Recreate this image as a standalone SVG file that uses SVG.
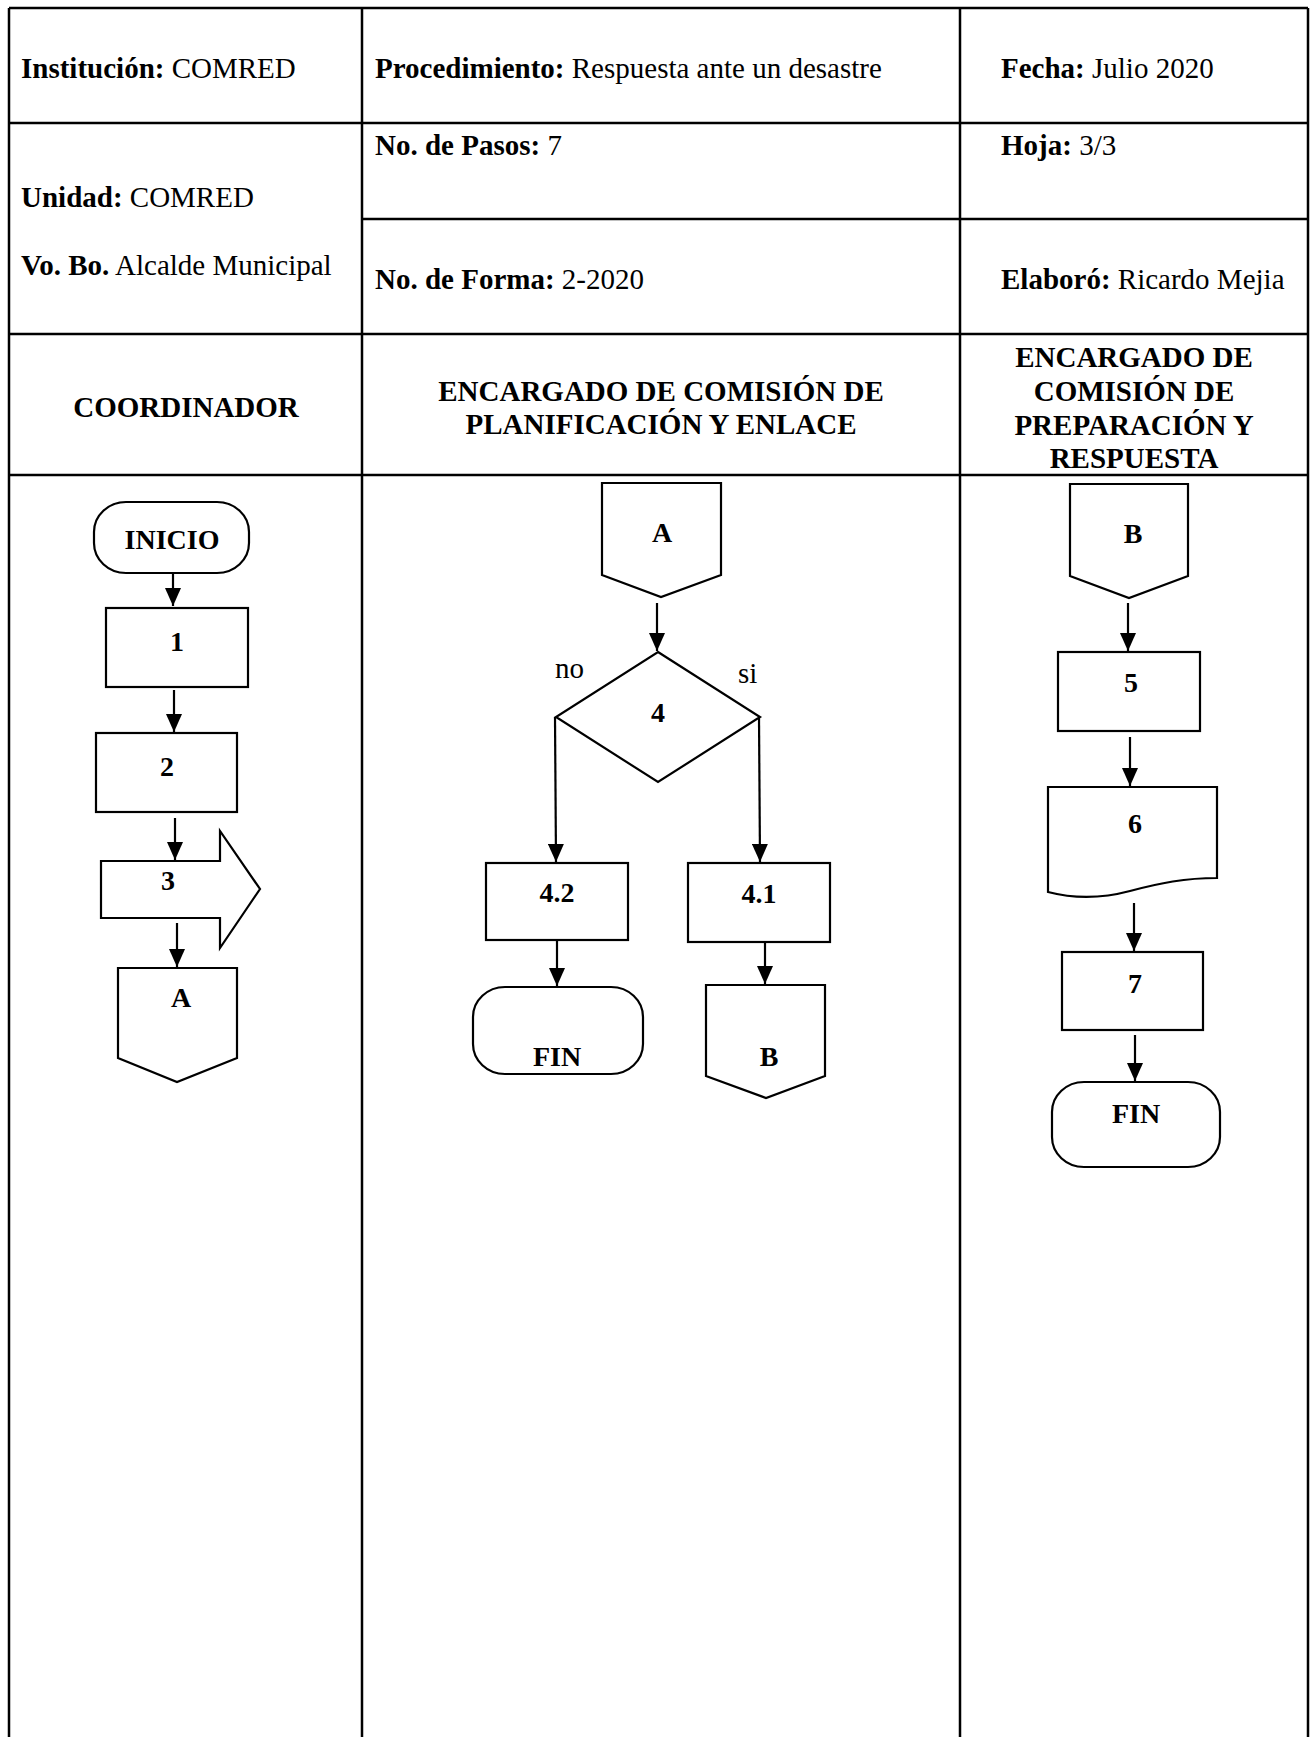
<svg xmlns="http://www.w3.org/2000/svg" width="1311" height="1737" viewBox="0 0 1311 1737">
<style>
.tbl{stroke:#000;stroke-width:2.5;fill:none}
.sh{fill:#fff;stroke:#000;stroke-width:2.2}
.cn{stroke:#000;stroke-width:2.2;fill:none}
text{font-family:"Liberation Serif","Times New Roman",serif;fill:#000}
.h{font-size:29px}
.hb{font-size:29px;font-weight:bold;text-anchor:middle}
.l{font-size:28px;font-weight:bold;text-anchor:middle}
.r{font-size:29px}
</style>
<defs>
<marker id="ah" viewBox="0 0 18 16" refX="18" refY="8" markerWidth="18" markerHeight="16" markerUnits="userSpaceOnUse" orient="auto">
<path d="M0,0 L18,8 L0,16 Z" fill="#000"/>
</marker>
</defs>
<rect width="1311" height="1737" fill="#fff"/>
<g id="table">
<path class="tbl" d="M9,8 H1308 M9,8 V1737 M362,8 V1737 M960,8 V1737 M1308,8 V1737 M9,123 H1308 M362,219 H1308 M9,334 H1308 M9,475 H1308"/>
<text class="h" x="21" y="78"><tspan font-weight="bold">Institución:</tspan> COMRED</text>
<text class="h" x="375" y="78"><tspan font-weight="bold">Procedimiento:</tspan> Respuesta ante un desastre</text>
<text class="h" x="1001" y="78"><tspan font-weight="bold">Fecha:</tspan> Julio 2020</text>
<text class="h" x="375" y="155"><tspan font-weight="bold">No. de Pasos:</tspan> 7</text>
<text class="h" x="1001" y="155"><tspan font-weight="bold">Hoja:</tspan> 3/3</text>
<text class="h" x="21" y="207"><tspan font-weight="bold">Unidad:</tspan> COMRED</text>
<text class="h" x="21" y="275"><tspan font-weight="bold">Vo. Bo.</tspan> Alcalde Municipal</text>
<text class="h" x="375" y="289"><tspan font-weight="bold">No. de Forma:</tspan> 2-2020</text>
<text class="h" x="1001" y="289"><tspan font-weight="bold">Elaboró:</tspan> Ricardo Mejia</text>
<text class="hb" x="186" y="417">COORDINADOR</text>
<text class="hb" x="661" y="401">ENCARGADO DE COMISIÓN DE</text>
<text class="hb" x="661" y="434">PLANIFICACIÓN Y ENLACE</text>
<text class="hb" x="1134" y="367">ENCARGADO DE</text>
<text class="hb" x="1134" y="401">COMISIÓN DE</text>
<text class="hb" x="1134" y="435">PREPARACIÓN Y</text>
<text class="hb" x="1134" y="468">RESPUESTA</text>
</g>
<g id="connectors">
<path class="cn" marker-end="url(#ah)" d="M173,573 V606"/>
<path class="cn" marker-end="url(#ah)" d="M174,690 V732"/>
<path class="cn" marker-end="url(#ah)" d="M175,818 V860"/>
<path class="cn" marker-end="url(#ah)" d="M177,923 V967"/>
<path class="cn" marker-end="url(#ah)" d="M657,603 V651"/>
<path class="cn" marker-end="url(#ah)" d="M555,717 L556,862"/>
<path class="cn" marker-end="url(#ah)" d="M759,717 L760,862"/>
<path class="cn" marker-end="url(#ah)" d="M557,941 V986"/>
<path class="cn" marker-end="url(#ah)" d="M765,943 V984"/>
<path class="cn" marker-end="url(#ah)" d="M1128,603 V651"/>
<path class="cn" marker-end="url(#ah)" d="M1130,737 V786"/>
<path class="cn" marker-end="url(#ah)" d="M1134,903 V951"/>
<path class="cn" marker-end="url(#ah)" d="M1135,1035 V1081"/>
<text class="r" x="555" y="678">no</text>
<text class="r" x="738" y="683">si</text>
</g>
<g id="inicio"><rect class="sh" x="94" y="502" width="155" height="71" rx="32" ry="30"/><text class="l" x="172" y="549">INICIO</text></g>
<g id="n1"><rect class="sh" x="106" y="608" width="142" height="79"/><text class="l" x="177" y="651">1</text></g>
<g id="n2"><rect class="sh" x="96" y="733" width="141" height="79"/><text class="l" x="167" y="776">2</text></g>
<g id="n3"><polygon class="sh" points="101,861 220,861 220,831 260,889 220,948 220,918 101,918"/><text class="l" x="168" y="890">3</text></g>
<g id="connA1"><polygon class="sh" points="118,968 237,968 237,1058 177,1082 118,1058"/><text class="l" x="181" y="1007">A</text></g>
<g id="connA2"><polygon class="sh" points="602,483 721,483 721,575 661,597 602,575"/><text class="l" x="662" y="542">A</text></g>
<g id="d4"><polygon class="sh" points="658,652 760,717 658,782 556,717"/><text class="l" x="658" y="722">4</text></g>
<g id="n42"><rect class="sh" x="486" y="863" width="142" height="77"/><text class="l" x="557" y="902">4.2</text></g>
<g id="n41"><rect class="sh" x="688" y="863" width="142" height="79"/><text class="l" x="759" y="903">4.1</text></g>
<g id="fin1"><rect class="sh" x="473" y="987" width="170" height="87" rx="32" ry="30"/><text class="l" x="557" y="1066">FIN</text></g>
<g id="connB1"><polygon class="sh" points="706,985 825,985 825,1076 766,1098 706,1076"/><text class="l" x="769" y="1066">B</text></g>
<g id="connB2"><polygon class="sh" points="1070,484 1188,484 1188,576 1129,598 1070,576"/><text class="l" x="1133" y="543">B</text></g>
<g id="n5"><rect class="sh" x="1058" y="652" width="142" height="79"/><text class="l" x="1131" y="692">5</text></g>
<g id="doc6"><path class="sh" d="M1048,787 H1217 V878 C1185,878 1160,883 1130,891 C1100,899 1075,899 1048,892 Z"/><text class="l" x="1135" y="833">6</text></g>
<g id="n7"><rect class="sh" x="1062" y="952" width="141" height="78"/><text class="l" x="1135" y="993">7</text></g>
<g id="fin2"><rect class="sh" x="1052" y="1082" width="168" height="85" rx="32" ry="30"/><text class="l" x="1136" y="1123">FIN</text></g>
</svg>
